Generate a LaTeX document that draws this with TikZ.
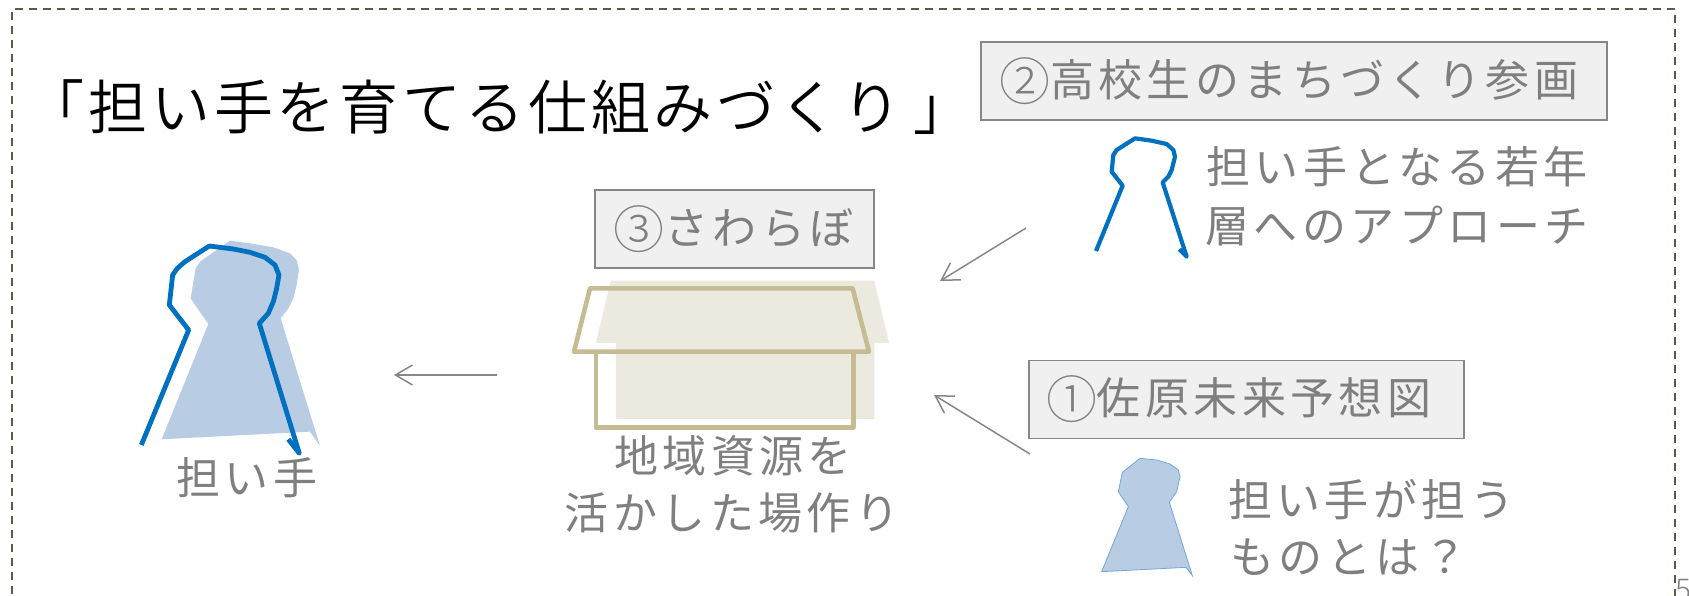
\documentclass[tikz,border=0pt]{standalone}
\usepackage{fontspec}
\usetikzlibrary{arrows.meta}
\setmainfont{Noto Sans CJK JP Light}
\newfontfamily\bodyjp[LetterSpace=10]{Noto Sans CJK JP}
\newfontfamily\digitjp{Noto Sans CJK JP Light}
\newfontfamily\titlejp[LetterSpace=6.5]{Noto Sans CJK JP DemiLight}
\newcommand{\circdig}[1]{\makebox[50pt][c]{\raisebox{-4pt}{\fontsize{51pt}{51pt}\digitjp #1}}}
\definecolor{txtgray}{HTML}{7F7F7F}
\definecolor{boxfill}{HTML}{F0F0F0}
\definecolor{boxline}{HTML}{878787}
\definecolor{frameline}{HTML}{5F5A45}
\definecolor{personblue}{HTML}{0070C0}
\definecolor{personfill}{HTML}{B8CCE4}
\definecolor{personedge}{HTML}{6FA8DC}
\definecolor{housefill}{HTML}{ECE9DE}
\definecolor{houseline}{HTML}{C6BC94}
\tikzset{
  x=1pt,y=-1pt,
  framebox/.style={draw=frameline,line width=2pt,dash pattern=on 8pt off 6pt},
  labelbox/.style={draw=boxline,fill=boxfill,line width=1.8pt,inner sep=0pt,minimum height=78pt},
  body/.style={text=txtgray,font=\fontsize{44pt}{44pt}\bodyjp,inner sep=0pt,anchor=center},
  link/.style={draw=boxline,line width=1.5pt,-{Straight Barb[length=17pt,width=20pt,line width=1.5pt]}},
  blueline/.style={draw=personblue,line width=4.8pt,line join=round},
  houseedge/.style={draw=houseline,line width=4.6pt,line join=round},
}
\begin{document}
\begin{tikzpicture}
\useasboundingbox (0,0) rectangle (1689,595);
\draw[framebox] (12,650) -- (12,9) -- (1675,9) -- (1675,650);
\node[font=\fontsize{59pt}{59pt}\titlejp,inner sep=0pt] (title) at (499,107) {「担い手を育てる仕組みづくり\hspace{12pt}」};
% labelled boxes
\node[labelbox,minimum width=626pt] (boxb) at (1294,81) {};
\node[body] (boxbt) at (1289,81) {\circdig{②}高校生のまちづくり参画};
\node[labelbox,minimum width=279pt] (boxc) at (734.5,229) {};
\node[body] (boxct) at (734,229) {\circdig{③}さわらぼ};
\node[labelbox,minimum width=435pt] (boxa) at (1246.5,399.5) {};
\node[body] (boxat) at (1239,399.5) {\circdig{①}佐原未来予想図};
% large person
\begin{scope}[shift={(100,210)},x=0.3333pt,y=-0.3333pt]
\fill[personfill] (185,688)--(325,342)--(272,265)--(287,175)--(300,155)--(390,92)--(450,100)--(520,112)--(570,130)--(590,150)--(597,180)--(590,225)--(580,265)--(565,295)--(542,325)--(660,708)--(630,665)--cycle;
\draw[blueline] (124,705)--(266,360)--(208,285)--(218,195)--(232,175)--(255,155)--(328,108)--(400,117)--(450,127)--(495,142)--(525,165)--(537,195)--(530,235)--(520,275)--(505,310)--(478,340)--(598,730)--(565,688);
\end{scope}
% small outlined person
\begin{scope}[shift={(1060,120)},x=0.3333pt,y=-0.3333pt]
\draw[blueline,line width=4.2pt] (108,393)--(188,197)--(155,155)--(160,105)--(170,90)--(225,55)--(275,62)--(320,72)--(340,90)--(345,110)--(335,150)--(325,170)--(308,187)--(380,410)--(358,388);
\end{scope}
% small filled person
\begin{scope}[shift={(1080,440)},x=0.3333pt,y=-0.3333pt]
\draw[fill=personfill,draw=personedge,line width=0.8pt] (65,395)--(145,200)--(115,155)--(127,97)--(180,55)--(230,60)--(270,72)--(295,90)--(300,110)--(290,155)--(268,187)--(337,407)--(318,382)--cycle;
\end{scope}
% house
\begin{scope}[shift={(540,180)},x=0.3333pt,y=-0.3333pt]
\fill[housefill] (213,302)--(1003,302)--(1047,489)--(1003,489)--(1003,717)--(228,717)--(228,489)--(167,489)--cycle;
\draw[houseedge] (150,325)--(938,325)--(987,515)--(102,515)--cycle;
\draw[houseedge] (168,515)--(168,742)--(940,742)--(940,515);
\end{scope}
% texts
\node[body] (t1) at (247,478) {担い手};
\node[body] (t2) at (733,456) {地域資源を};
\node[body] (t3) at (732,513) {活かした場作り};
\node[body] (t4) at (1397,167) {担い手となる若年};
\node[body] (t5) at (1397,226) {層へのアプローチ};
\node[body] (t6) at (1371,500) {担い手が担う};
\node[body] (t7) at (1349,557) {ものとは？};
\node[text=txtgray,font=\fontsize{30pt}{30pt}\selectfont,inner sep=0pt] (page) at (1684,590) {5};
% connectors
\coordinate (a1s) at (1026,228); \coordinate (a1e) at (940,281);
\coordinate (a2s) at (1030,454); \coordinate (a2e) at (934,395);
\coordinate (a3s) at (497,375); \coordinate (a3e) at (394,375);
\draw[link] (a1s) -- (a1e);
\draw[link] (a2s) -- (a2e);
\draw[link] (a3s) -- (a3e);
\end{tikzpicture}
\end{document}
